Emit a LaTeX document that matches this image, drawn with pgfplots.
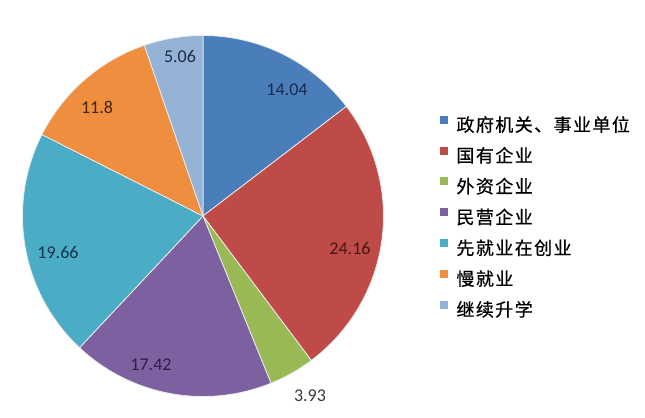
\documentclass[border=0pt]{standalone}
\usepackage{pgfplots}
\pgfplotsset{compat=1.18}
\usepackage{pgfplotstable}
\usepackage{fontspec}
\setmainfont{Carlito}
\newfontfamily\cjk[LetterSpace=8, FakeBold=0.6]{Noto Sans CJK SC}

% slice fills
\definecolor{pieC0}{HTML}{4A7EBB}
\definecolor{pieC1}{HTML}{BE4B48}
\definecolor{pieC2}{HTML}{98B954}
\definecolor{pieC3}{HTML}{7D60A0}
\definecolor{pieC4}{HTML}{4BACC6}
\definecolor{pieC5}{HTML}{EE8E3E}
\definecolor{pieC6}{HTML}{95B3D7}
% label text
\definecolor{pieT0}{HTML}{1C2B4A}
\definecolor{pieT1}{HTML}{4A1614}
\definecolor{pieT2}{HTML}{3A3A3A}
\definecolor{pieT3}{HTML}{2E1F45}
\definecolor{pieT4}{HTML}{16324A}
\definecolor{pieT5}{HTML}{45250C}
\definecolor{pieT6}{HTML}{1C2B4A}

% value, label position (bp from the pie centre)
\pgfplotstableread{
idx value lx ly
0 14.04 84 126
1 24.16 147 -32
2 3.93 107 -180
3 17.42 -52 -149
4 19.66 -145 -36
5 11.8 -106 109
6 5.06 -23 160
}\pietable

\newcommand\pieR{180.5}

\begin{document}
\begin{tikzpicture}
% start / end angle of every slice, clockwise from the top
\gdef\pietotal{0}
\pgfplotstableforeachcolumnelement{value}\of\pietable\as\pieval{%
  \pgfmathsetmacro\pietmp{\pietotal+\pieval}\xdef\pietotal{\pietmp}}
\gdef\pieacc{0}
\pgfplotstableforeachcolumnelement{value}\of\pietable\as\pieval{%
  \pgfmathsetmacro\piesa{90-360*(\pieacc/\pietotal)}%
  \pgfmathsetmacro\pienext{\pieacc+\pieval}%
  \pgfmathsetmacro\pieea{90-360*(\pienext/\pietotal)}%
  \expandafter\xdef\csname pieS\pgfplotstablerow\endcsname{\piesa}%
  \expandafter\xdef\csname pieE\pgfplotstablerow\endcsname{\pieea}%
  \xdef\pieacc{\pienext}}

\begin{axis}[
  hide axis,
  x=1bp, y=1bp,
  xmin=-181, xmax=181, ymin=-181, ymax=181,
  clip=false,
  at={(203bp,202bp)}, anchor=center,
  legend image code/.code={\fill[#1] (0bp,3.5bp) rectangle (7bp,10.5bp);},
  legend cell align=left,
  legend style={at={(1.146,0.783)}, anchor=north west, draw=none, fill=none,
    font=\cjk\fontsize{18bp}{20bp}\selectfont,
    row sep=11.1bp,
    nodes={inner sep=0pt, text height=14bp, text depth=4bp},
    /tikz/every odd column/.append style={column sep=9bp}},
]
\pgfplotsinvokeforeach{0,...,6}{
  \fill[pieC#1, draw=white!92!black, line width=0.8bp, line join=round]
    (axis cs:0,0)
    -- (axis cs:{\pieR*cos(\csname pieS#1\endcsname)},{\pieR*sin(\csname pieS#1\endcsname)})
    arc[start angle=\csname pieS#1\endcsname, end angle=\csname pieE#1\endcsname, radius=180.5bp]
    -- cycle;
}

% value labels
\addplot[forget plot, only marks, mark=none,
  point meta=explicit symbolic,
  visualization depends on={value \coordindex \as \rowid},
  nodes near coords={\textcolor{pieT\rowid}{\pgfplotspointmeta}},
  every node near coord/.append style={font=\fontsize{18bp}{20bp}\selectfont, anchor=center, inner sep=0pt}]
  table[x=lx, y=ly, meta=value]{\pietable};

\addlegendimage{pieC0}\addlegendentry{政府机关、事业单位}
\addlegendimage{pieC1}\addlegendentry{国有企业}
\addlegendimage{pieC2}\addlegendentry{外资企业}
\addlegendimage{pieC3}\addlegendentry{民营企业}
\addlegendimage{pieC4}\addlegendentry{先就业在创业}
\addlegendimage{pieC5}\addlegendentry{慢就业}
\addlegendimage{pieC6}\addlegendentry{继续升学}
\end{axis}
\pgfresetboundingbox
\path (0,0) rectangle (645bp,418bp);
\end{tikzpicture}
\end{document}
